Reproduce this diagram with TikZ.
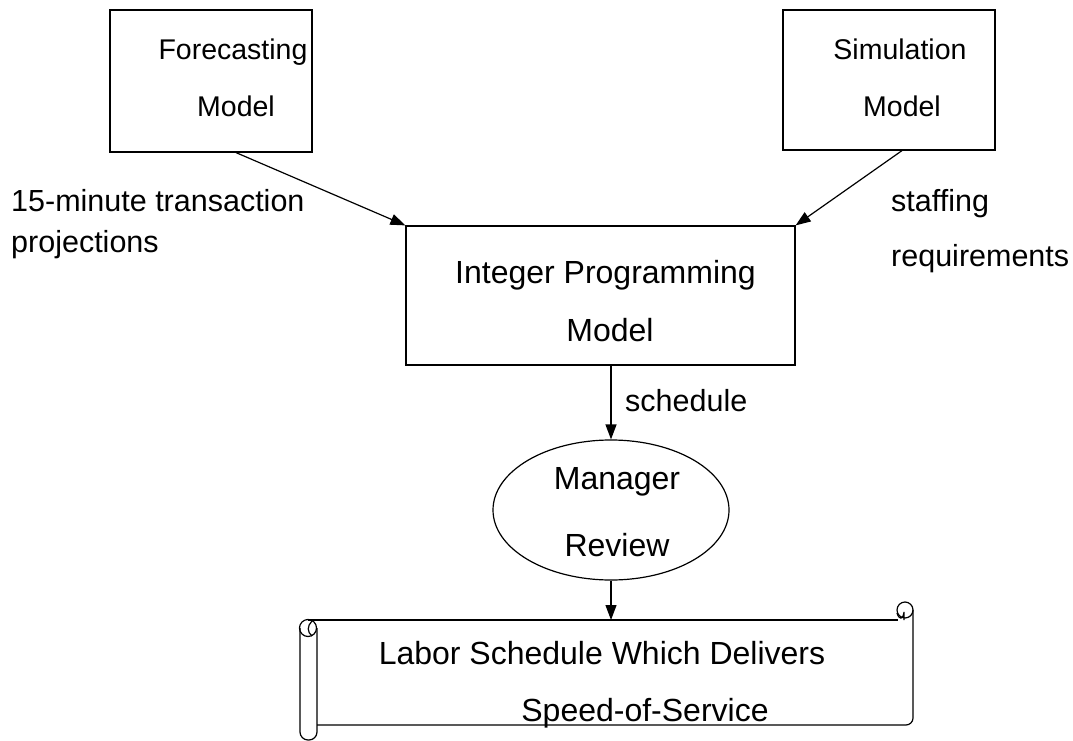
\documentclass[tikz,border=0pt]{standalone}
\usepackage{fontspec}
\setmainfont{Liberation Sans}
\usetikzlibrary{arrows.meta,shapes.geometric,calc}
\tikzset{
  box/.style={draw, line width=1.2pt, rectangle, inner sep=0pt},
  txt/.style={anchor=base, inner sep=0pt, font=\fontsize{32}{38}\selectfont},
  stxt/.style={anchor=base, inner sep=0pt, font=\fontsize{28.5}{34}\selectfont},
  ltxt/.style={anchor=base west, inner sep=0pt, font=\fontsize{30.5}{37}\selectfont},
  conn/.style={line width=1.2pt, -{Triangle[length=15pt,width=11pt]}},
  lin/.style={line width=1.2pt},
}
\begin{document}
\begin{tikzpicture}[x=1pt,y=-1pt]
\useasboundingbox (0,0) rectangle (1073,741);
% boxes
\node[box, minimum width=202pt, minimum height=142pt] (fc) at (211,81) {};
\node[box, minimum width=212pt, minimum height=140pt] (sim) at (889,80) {};
\node[box, minimum width=389pt, minimum height=139pt] (ip) at (600.5,295.5) {};
\node[draw, ellipse, line width=1.2pt, minimum width=236pt, minimum height=140pt, inner sep=0pt] (mgr) at (611,510) {};
% box texts
\node[stxt] (fc1) at (233,60) {Forecasting};
\node[stxt] (fc2) at (236,117) {Model};
\node[stxt] (sim1) at (900,60) {Simulation};
\node[stxt] (sim2) at (902,117) {Model};
\node[txt] (ip1) at (605.5,283) {Integer Programming};
\node[txt] (ip2) at (610,341) {Model};
\node[txt] (mg1) at (617,489) {Manager};
\node[txt] (mg2) at (617,556) {Review};
\node[txt] (ls1) at (602,664) {Labor Schedule Which Delivers};
\node[txt] (ls2) at (645,721) {Speed-of-Service};
% labels
\node[ltxt] (l1) at (11,211) {15-minute transaction};
\node[ltxt] (l2) at (11,252) {projections};
\node[ltxt] (l3) at (891,211) {staffing};
\node[ltxt] (l4) at (891,266) {requirements};
\node[ltxt] (l5) at (625,411) {schedule};
% scroll
\coordinate (scrolltop) at (611,620);
\draw[lin] (308,620) -- (898,620);
\draw[lin] (317,725) -- (906,725) arc[start angle=90, end angle=0, radius=7] -- (913,610);
\draw[lin] (905,610) circle (8);
\draw[lin] (897,613) .. controls (899,620) and (903,620) .. (904,612) -- (904,620);
\draw[lin, rounded corners=8pt] (317,628) -- (317,740) -- (300,740) -- (300,628);
\draw[lin] (308,628) circle (8.5);
\draw[lin] (312,621) .. controls (307,626) and (307,632) .. (312,636);
% connectors
\draw[conn] ($(fc.south)+(25,0)$) -- (ip.north west);
\draw[conn] ($(sim.south)+(13,0)$) -- (ip.north east);
\draw[conn] (ip.south -| mgr.north) -- (mgr.north);
\draw[conn] (mgr.south) -- (scrolltop);
\end{tikzpicture}
\end{document}
